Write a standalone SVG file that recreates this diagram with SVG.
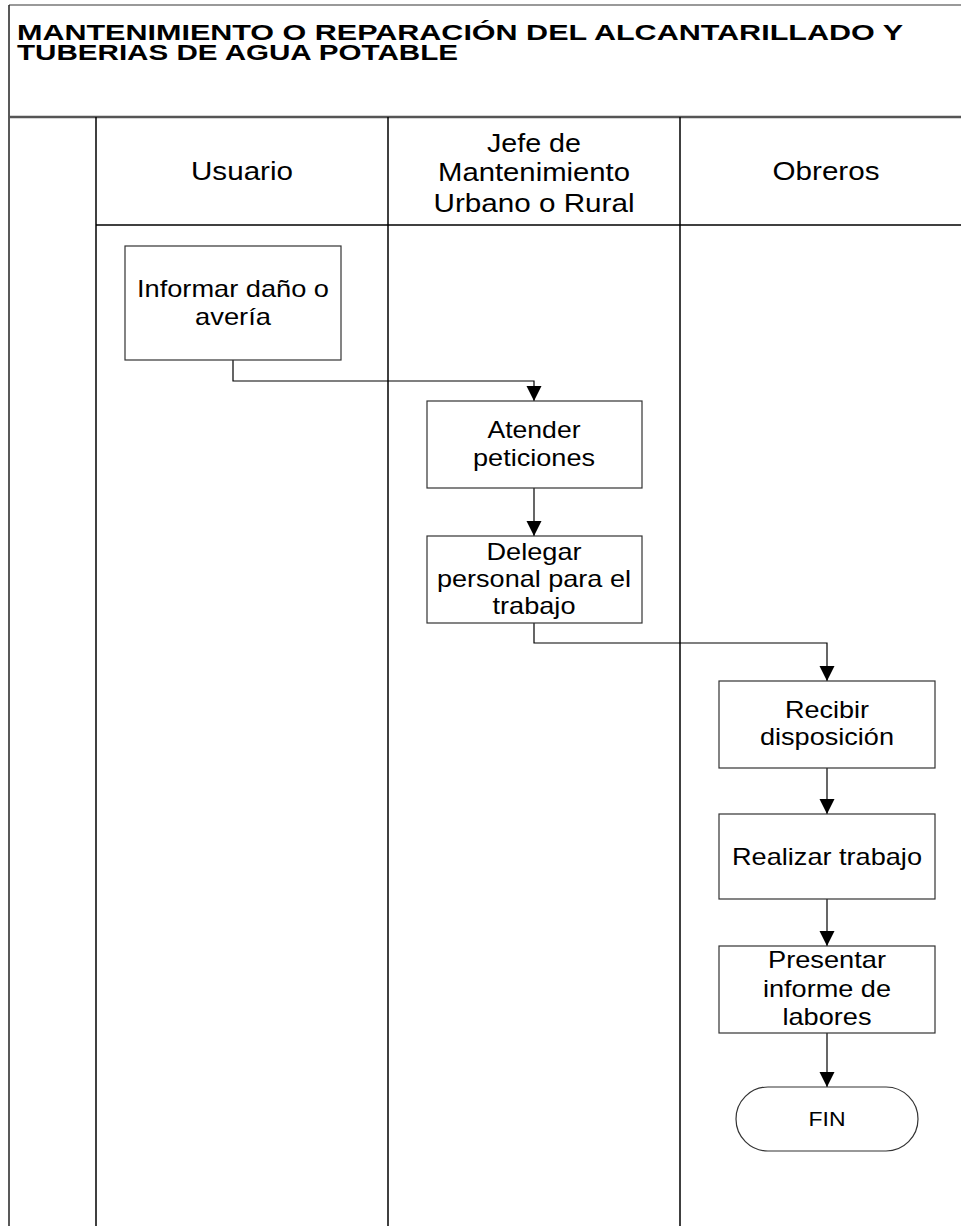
<svg xmlns="http://www.w3.org/2000/svg" width="961" height="1226" viewBox="0 0 961 1226">
<defs>
<marker id="arr" markerUnits="userSpaceOnUse" markerWidth="16" markerHeight="16" refX="15" refY="7.5" orient="auto">
<path d="M0,0 L15,7.5 L0,15 z" fill="#000"/>
</marker>
<style>
.frame{stroke:#000;fill:none}
.box{fill:#fff;stroke:#333;stroke-width:1.2}
.t{font-family:"Liberation Sans",Arial,sans-serif;font-size:24px;fill:#000;text-anchor:middle}
.h{font-family:"Liberation Sans",Arial,sans-serif;font-size:25px;fill:#000;text-anchor:middle}
.title{font-family:"Liberation Sans",Arial,sans-serif;font-size:22px;font-weight:bold;fill:#000}
.c{fill:none;stroke:#000;stroke-width:1.2;marker-end:url(#arr)}
</style>
</defs>
<rect width="961" height="1226" fill="#fff"/>
<g id="frame">
<line x1="9" y1="5" x2="961" y2="5" stroke="#777" stroke-width="1.5"/>
<line x1="9" y1="5" x2="9" y2="1226" stroke="#222" stroke-width="1.5"/>
<line x1="9" y1="117" x2="961" y2="117" stroke="#555" stroke-width="2.5"/>
<line x1="96" y1="225" x2="961" y2="225" stroke="#000" stroke-width="1.5"/>
<line x1="96" y1="117" x2="96" y2="1226" stroke="#000" stroke-width="1.5"/>
<line x1="388" y1="117" x2="388" y2="1226" stroke="#000" stroke-width="1.5"/>
<line x1="680" y1="117" x2="680" y2="1226" stroke="#000" stroke-width="1.5"/>
</g>
<g id="title">
<text class="title" x="17" y="40" textLength="886" lengthAdjust="spacingAndGlyphs">MANTENIMIENTO O REPARACIÓN DEL ALCANTARILLADO Y</text>
<text class="title" x="17" y="60" textLength="441" lengthAdjust="spacingAndGlyphs">TUBERIAS DE AGUA POTABLE</text>
</g>
<g id="lane-usuario">
<text class="h" x="242" y="180" textLength="102" lengthAdjust="spacingAndGlyphs">Usuario</text>
</g>
<g id="lane-jefe">
<text class="h" x="534" y="152" textLength="94" lengthAdjust="spacingAndGlyphs">Jefe de</text>
<text class="h" x="534" y="181" textLength="192" lengthAdjust="spacingAndGlyphs">Mantenimiento</text>
<text class="h" x="534" y="212" textLength="201" lengthAdjust="spacingAndGlyphs">Urbano o Rural</text>
</g>
<g id="lane-obreros">
<text class="h" x="826" y="180" textLength="107" lengthAdjust="spacingAndGlyphs">Obreros</text>
</g>
<g id="connectors">
<path class="c" d="M233,360 V381 H534 V401"/>
<path class="c" d="M534,488 V536"/>
<path class="c" d="M534,623 V643 H827 V681"/>
<path class="c" d="M827,768 V814"/>
<path class="c" d="M827,899 V946"/>
<path class="c" d="M827,1033 V1087"/>
</g>
<g id="n-informar">
<rect class="box" x="125" y="246" width="216" height="114"/>
<text class="t" x="233" y="297" textLength="192" lengthAdjust="spacingAndGlyphs">Informar daño o</text>
<text class="t" x="233" y="325" textLength="76" lengthAdjust="spacingAndGlyphs">avería</text>
</g>
<g id="n-atender">
<rect class="box" x="427" y="401" width="215" height="87"/>
<text class="t" x="534" y="438" textLength="93" lengthAdjust="spacingAndGlyphs">Atender</text>
<text class="t" x="534" y="466" textLength="122" lengthAdjust="spacingAndGlyphs">peticiones</text>
</g>
<g id="n-delegar">
<rect class="box" x="427" y="536" width="215" height="87"/>
<text class="t" x="534" y="560" textLength="95" lengthAdjust="spacingAndGlyphs">Delegar</text>
<text class="t" x="534" y="587" textLength="194" lengthAdjust="spacingAndGlyphs">personal para el</text>
<text class="t" x="534" y="614" textLength="83" lengthAdjust="spacingAndGlyphs">trabajo</text>
</g>
<g id="n-recibir">
<rect class="box" x="719" y="681" width="216" height="87"/>
<text class="t" x="827" y="718" textLength="84" lengthAdjust="spacingAndGlyphs">Recibir</text>
<text class="t" x="827" y="745" textLength="134" lengthAdjust="spacingAndGlyphs">disposición</text>
</g>
<g id="n-realizar">
<rect class="box" x="719" y="814" width="216" height="85"/>
<text class="t" x="827" y="865" textLength="190" lengthAdjust="spacingAndGlyphs">Realizar trabajo</text>
</g>
<g id="n-presentar">
<rect class="box" x="719" y="946" width="216" height="87"/>
<text class="t" x="827" y="968" textLength="118" lengthAdjust="spacingAndGlyphs">Presentar</text>
<text class="t" x="827" y="997" textLength="128" lengthAdjust="spacingAndGlyphs">informe de</text>
<text class="t" x="827" y="1025" textLength="89" lengthAdjust="spacingAndGlyphs">labores</text>
</g>
<g id="n-fin">
<rect class="box" x="736" y="1087" width="182" height="64" rx="32" ry="32"/>
<text class="t" x="827" y="1126" style="font-size:20px" textLength="37" lengthAdjust="spacingAndGlyphs">FIN</text>
</g>
</svg>
